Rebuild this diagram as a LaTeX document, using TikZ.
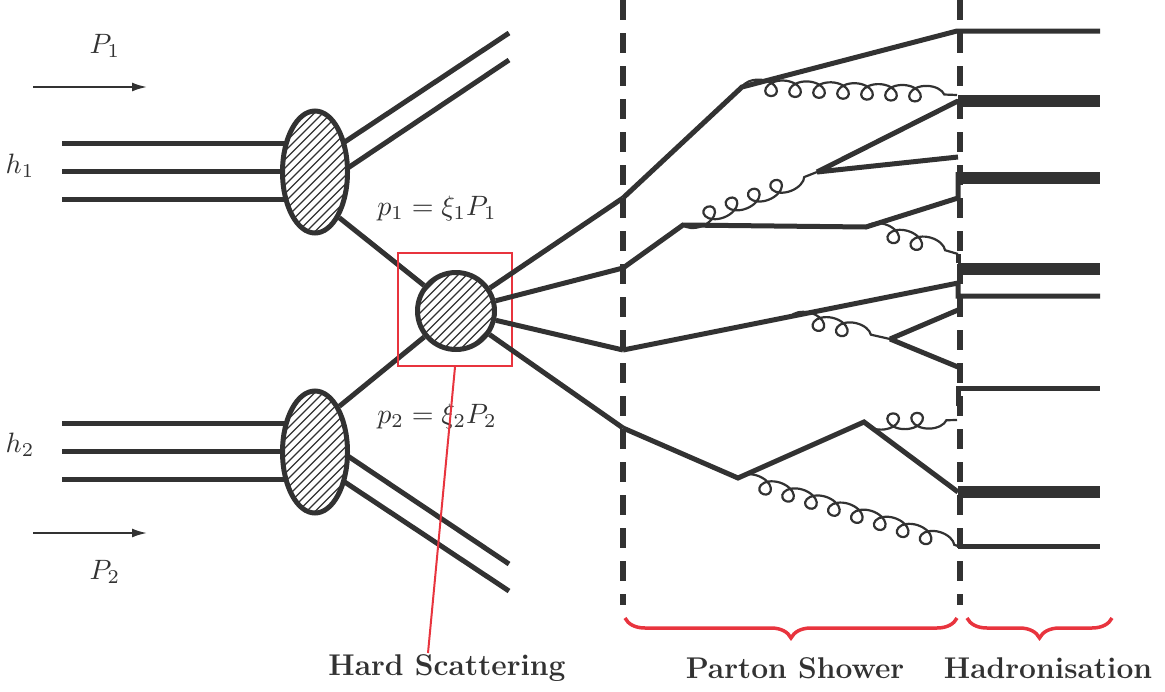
\documentclass[tikz,border=0pt]{standalone}
\usetikzlibrary{decorations.pathmorphing,decorations.pathreplacing,shapes.geometric,arrows.meta,calc}
\definecolor{ink}{RGB}{50,50,50}
\definecolor{hsred}{RGB}{232,52,62}
\newcommand{\mylbl}[1]{\scalebox{2.8}{$#1$}}
\begin{document}
\begin{tikzpicture}[x=1pt,y=-1pt,
  line/.style={ink, line width=5pt},
  thickh/.style={ink, line width=12pt},
  gluon/.style={ink, line width=2.2pt, decorate, decoration={coil, amplitude=8pt, segment length=24pt, aspect=1.4}},
  gluonm/.style={ink, line width=2.2pt, decorate, decoration={coil, mirror, amplitude=8pt, segment length=24pt, aspect=1.4}},
  hatch/.style={path picture={\foreach \i in {-16,...,16}{\draw[ink, line width=1.1pt] ([xshift=\i*8.5pt]path picture bounding box.center) ++(-90pt,-90pt) -- ++(180pt,180pt);}}},
  blob/.style={draw=ink, line width=5pt, fill=white, inner sep=0pt, hatch},
  dashline/.style={ink, line width=6pt, dash pattern=on 20pt off 13pt},
  rbrace/.style={hsred, line width=3.5pt, decorate, decoration={brace, mirror, amplitude=20pt}},
  lbl/.style={text=ink, font=\bfseries\fontsize{30}{34}\selectfont},
  mlbl/.style={text=ink},
  mom/.style={ink, line width=2pt, -{Latex[length=15pt,width=9pt]}}]
\useasboundingbox (0,0) rectangle (1165,691);

% coordinates
\coordinate (c1) at (315,172);
\coordinate (c2) at (315,452);
\coordinate (h1a) at (62,143); \coordinate (h1b) at (62,171); \coordinate (h1c) at (62,199);
\coordinate (h2a) at (62,423); \coordinate (h2b) at (62,451); \coordinate (h2c) at (62,479);
\coordinate (u1s) at (316,161); \coordinate (u1e) at (509,33);
\coordinate (u2s) at (318,188); \coordinate (u2e) at (509,60);
\coordinate (d1s) at (318,436); \coordinate (d1e) at (509,564);
\coordinate (d2s) at (316,463); \coordinate (d2e) at (509,591);

% dashed separators
\coordinate (D1t) at (623,0); \coordinate (D1b) at (623,605);
\coordinate (D2t) at (960,0); \coordinate (D2b) at (960,605);
\draw[dashline] (D1t) -- (D1b);
\draw[dashline] (D2t) -- (D2b);

% incoming hadrons
\draw[line] (h1a) -- (h1a -| c1);
\draw[line] (h1b) -- (h1b -| c1);
\draw[line] (h1c) -- (h1c -| c1);
\draw[line] (h2a) -- (h2a -| c2);
\draw[line] (h2b) -- (h2b -| c2);
\draw[line] (h2c) -- (h2c -| c2);
\draw[line] (u1s) -- (u1e);
\draw[line] (u2s) -- (u2e);
\draw[line] (d1s) -- (d1e);
\draw[line] (d2s) -- (d2e);

% blobs
\node[blob, ellipse, minimum width=65pt, minimum height=122pt] (B1) at (c1) {};
\node[blob, ellipse, minimum width=65pt, minimum height=122pt] (B2) at (c2) {};
\node[blob, circle, minimum size=77pt] (HS) at (456,311) {};
\draw[line] (B1.-62) -- (HS);
\draw[line] (B2.62) -- (HS);

% red box
\node[draw=hsred, line width=2pt, minimum width=114pt, minimum height=113pt] (box) at (455,309.5) {};

% shower vertices
\coordinate (A1) at (623,198); \coordinate (A2) at (623,268);
\coordinate (A3) at (623,350); \coordinate (A4) at (623,428);
\coordinate (V1) at (742,87); \coordinate (T1) at (957,31); \coordinate (H1e) at (1100,31);
\coordinate (G1e) at (957,95);
\coordinate (V2) at (683,225); \coordinate (V3) at (866,227);
\coordinate (E3) at (958,198); \coordinate (K3) at (958,172); \coordinate (H3s) at (958,178); \coordinate (H3e) at (1100,178);
\coordinate (V4) at (817,172); \coordinate (E4a) at (958,101); \coordinate (E4b) at (958,157);
\coordinate (H2e) at (1100,101);
\coordinate (G3e) at (958,254); \coordinate (K4) at (958,263); \coordinate (H4s) at (958,269); \coordinate (H4e) at (1100,269);
\coordinate (E5) at (958,283); \coordinate (K5) at (958,296); \coordinate (H5e) at (1100,296);
\coordinate (V5) at ($(A3)!0.5!(E5)$); \coordinate (V6) at (890,339);
\coordinate (E6a) at (958,310); \coordinate (E6b) at (958,367);
\coordinate (K6) at (958,406); \coordinate (H6s) at (958,388); \coordinate (H6e) at (1100,388);
\coordinate (V7) at (738,478); \coordinate (V8) at (864,422);
\coordinate (G5e) at (957,420);
\coordinate (H7s) at (958,492); \coordinate (H7e) at (1100,492);
\coordinate (G6e) at (958,546); \coordinate (H8e) at (1100,546);

% lines out of the hard scattering
\draw[line] (HS) -- (A1);
\draw[line] (HS) -- (A2);
\draw[line] (HS) -- (A3);
\draw[line] (HS) -- (A4);

% branch 1
\draw[line] (A1) -- (V1) -- (T1) -- (H1e);
\draw[gluon] (V1) -- (G1e);
% branch 2
\draw[line] (A2) -- (V2) -- (V3) -- (E3) -- (K3);
\draw[thickh] (H3s) -- (H3e);
\draw[gluonm] (V2) -- (V4);
\draw[line] (V4) -- (E4a);
\draw[line] (V4) -- (E4b);
\draw[thickh] (E4a) -- (H2e);
\draw[gluon] (V3) -- (G3e);
\draw[line] (G3e) -- (K4);
\draw[thickh] (H4s) -- (H4e);
% branch 3
\draw[line] (A3) -- (E5) -- (K5) -- (H5e);
\draw[gluon] (V5) -- (V6);
\draw[line] (V6) -- (E6a);
\draw[line] (V6) -- (E6b);
% branch 4
\draw[line] (A4) -- (V7) -- (V8) -- (H7s);
\draw[thickh] (H7s) -- (H7e);
\draw[gluonm] (V8) -- (G5e);
\draw[line] (K6) -- (H6s) -- (H6e);
\draw[gluon] (V7) -- (G6e);
\draw[line] (G6e) -- (H8e);

% momenta
\coordinate (a1s) at (33,87); \coordinate (a1e) at (147,87);
\coordinate (a2s) at (33,533); \coordinate (a2e) at (147,533);
\draw[mom] (a1s) -- (a1e);
\draw[mom] (a2s) -- (a2e);
\node[mlbl] (lP1) at (105,46) {\mylbl{P_1}};
\node[mlbl] (lP2) at (105,572) {\mylbl{P_2}};
\node[mlbl] (lh1) at (20,166) {\mylbl{h_1}};
\node[mlbl] (lh2) at (20,445) {\mylbl{h_2}};
\node[mlbl] (lp1) at (437,208) {\mylbl{p_1 = \xi_1 P_1}};
\node[mlbl] (lp2) at (437,416) {\mylbl{p_2 = \xi_2 P_2}};

% braces
\coordinate (bPSl) at (625,618); \coordinate (bPSr) at (957,618);
\coordinate (bHl) at (967,618); \coordinate (bHr) at (1112,618);
\draw[rbrace] (bPSl) -- (bPSr);
\draw[rbrace] (bHl) -- (bHr);

% labels
\node[lbl] (lHS) at (447,668) {Hard Scattering};
\node[lbl] (lPS) at (795,668) {Parton Shower};
\node[lbl] (lHad) at (1048,668) {Hadronisation};
\draw[hsred, line width=2pt] (box.south) -- ([xshift=-19pt,yshift=-2pt]lHS.north);
\end{tikzpicture}
\end{document}
